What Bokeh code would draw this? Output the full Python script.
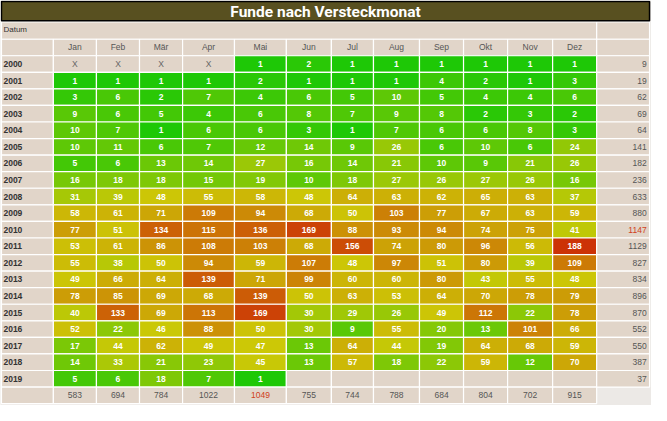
from bokeh.plotting import figure
from bokeh.models import Range1d, ColumnDataSource
from bokeh.embed import file_html
from bokeh.resources import INLINE
from bokeh.core.properties import value

# ---------------- data ----------------
months = ["Jan", "Feb", "Mär", "Apr", "Mai", "Jun", "Jul", "Aug", "Sep", "Okt", "Nov", "Dez"]
years = [str(y) for y in range(2000, 2020)]

# "X" = not yet possible, None = no data
y2000 = ["X", "X", "X", "X", 1, 2, 1, 1, 1, 1, 1, 1]
y2001 = [1, 1, 1, 1, 2, 1, 1, 1, 4, 2, 1, 3]
y2002 = [3, 6, 2, 7, 4, 6, 5, 10, 5, 4, 4, 6]
y2003 = [9, 6, 5, 4, 6, 8, 7, 9, 8, 2, 3, 2]
y2004 = [10, 7, 1, 6, 6, 3, 1, 7, 6, 6, 8, 3]
y2005 = [10, 11, 6, 7, 12, 14, 9, 26, 6, 10, 6, 24]
y2006 = [5, 6, 13, 14, 27, 16, 14, 21, 10, 9, 21, 26]
y2007 = [16, 18, 18, 15, 19, 10, 18, 27, 26, 27, 26, 16]
y2008 = [31, 39, 48, 55, 58, 48, 64, 63, 62, 65, 63, 37]
y2009 = [58, 61, 71, 109, 94, 68, 50, 103, 77, 67, 63, 59]
y2010 = [77, 51, 134, 115, 136, 169, 88, 93, 94, 74, 75, 41]
y2011 = [53, 61, 86, 108, 103, 68, 156, 74, 80, 96, 56, 188]
y2012 = [55, 38, 50, 94, 59, 107, 48, 97, 51, 80, 39, 109]
y2013 = [49, 66, 64, 139, 71, 99, 60, 60, 80, 43, 55, 48]
y2014 = [78, 85, 69, 68, 139, 50, 63, 53, 64, 70, 78, 79]
y2015 = [40, 133, 69, 113, 169, 30, 29, 26, 49, 112, 22, 78]
y2016 = [52, 22, 46, 88, 50, 30, 9, 55, 20, 13, 101, 66]
y2017 = [17, 44, 62, 49, 47, 13, 64, 44, 19, 64, 68, 59]
y2018 = [14, 33, 21, 23, 45, 13, 57, 18, 22, 59, 12, 70]
y2019 = [5, 6, 18, 7, 1, None, None, None, None, None, None, None]
values = [y2000, y2001, y2002, y2003, y2004, y2005, y2006, y2007, y2008, y2009,
          y2010, y2011, y2012, y2013, y2014, y2015, y2016, y2017, y2018, y2019]

row_totals = [9, 19, 62, 69, 64, 141, 182, 236, 633, 880, 1147, 1129, 827, 834,
              896, 870, 552, 550, 387, 37]
col_totals = [583, 694, 784, 1022, 1049, 755, 744, 788, 684, 804, 702, 915]
title = "Funde nach Versteckmonat"
corner_label = "Datum"

# ---------------- layout / style ----------------
COL_EDGES = [55, 99, 143, 187, 240, 293, 339, 382, 429, 474, 519, 565, 610]
LEFT, RIGHT = 2, 664
TITLE_Y = (2, 22)
DATUM_Y = (23, 41)
HEAD_Y = (41, 58)
ROW_TOP, ROW_H = 58, 17.1
BEIGE = "#e1d5c9"
PAGE = "#ece9e6"
FONT = "Liberation Sans"

nums = [v for row in values for v in row if isinstance(v, (int, float))]
vmax = max(nums)


def heat(v):
    t = (v / vmax) ** 0.5
    r = 204 * min(1.0, 2 * t)
    g = 200 - 150 * max(0.0, 2 * t - 1)
    return "#%02x%02x%02x" % (int(round(r)), int(round(g)), 6)


p = figure(width=651, height=405, x_range=Range1d(1, 666), y_range=Range1d(419, 1),
           output_backend="svg", toolbar_location=None, x_axis_type=None, y_axis_type=None,
           min_border=0, background_fill_color=PAGE, border_fill_color=PAGE)
p.grid.visible = False
p.outline_line_color = None

# cells
L, R, T, B, F = [], [], [], [], []


def cell(l, r, t, b, f):
    L.append(l); R.append(r); T.append(t); B.append(b); F.append(f)


cell(LEFT, COL_EDGES[-1], DATUM_Y[0], DATUM_Y[1], BEIGE)
cell(COL_EDGES[-1], RIGHT, DATUM_Y[0], DATUM_Y[1], BEIGE)
cell(LEFT, COL_EDGES[0], HEAD_Y[0], HEAD_Y[1], BEIGE)
for j in range(12):
    cell(COL_EDGES[j], COL_EDGES[j + 1], HEAD_Y[0], HEAD_Y[1], BEIGE)
cell(COL_EDGES[-1], RIGHT, HEAD_Y[0], HEAD_Y[1], BEIGE)

row_mid = []
for i, row in enumerate(values):
    t = ROW_TOP + i * ROW_H
    b = t + ROW_H
    row_mid.append((t + b) / 2)
    cell(LEFT, COL_EDGES[0], t, b, BEIGE)
    for j, v in enumerate(row):
        f = heat(v) if isinstance(v, (int, float)) else BEIGE
        cell(COL_EDGES[j], COL_EDGES[j + 1], t, b, f)
    cell(COL_EDGES[-1], RIGHT, t, b, BEIGE)

tot_t = ROW_TOP + len(values) * ROW_H
tot_b = tot_t + 17
cell(LEFT, COL_EDGES[0], tot_t, tot_b, BEIGE)
for j in range(12):
    cell(COL_EDGES[j], COL_EDGES[j + 1], tot_t, tot_b, BEIGE)

p.quad(left="l", right="r", top="t", bottom="b", fill_color="f", line_color="white",
       line_width=1.2, source=ColumnDataSource(dict(l=L, r=R, t=T, b=B, f=F)))

# title bar
p.quad(left=[LEFT], right=[RIGHT], top=[TITLE_Y[0]], bottom=[TITLE_Y[1]],
       fill_color="#585020", line_color="black", line_width=1.5)
p.text(x=[(LEFT + RIGHT) / 2], y=[(TITLE_Y[0] + TITLE_Y[1]) / 2 + 0.5], text=[title],
       text_color="white", text_font=value("Roboto"), text_font_style="bold",
       text_font_size="15.5px", text_align="center", text_baseline="middle")

p.text(x=[4], y=[(DATUM_Y[0] + DATUM_Y[1]) / 2 - 1], text=[corner_label], text_color="#333333",
       text_font=value(FONT), text_font_size="8px", text_baseline="middle")

col_mid = [(COL_EDGES[j] + COL_EDGES[j + 1]) / 2 for j in range(12)]
p.text(x=col_mid, y=[(HEAD_Y[0] + HEAD_Y[1]) / 2] * 12, text=months, text_color="#555555",
       text_font=value(FONT), text_font_size="8.5px", text_align="center", text_baseline="middle")

p.text(x=[4] * len(years), y=row_mid, text=years, text_color="#333333", text_font=value(FONT),
       text_font_style="bold", text_font_size="8.5px", text_baseline="middle")

vx, vy, vt, xx, xy = [], [], [], [], []
for i, row in enumerate(values):
    for j, v in enumerate(row):
        if isinstance(v, (int, float)):
            vx.append(col_mid[j]); vy.append(row_mid[i]); vt.append(str(v))
        elif v == "X":
            xx.append(col_mid[j]); xy.append(row_mid[i])
p.text(x=vx, y=vy, text=vt, text_color="white", text_font=value(FONT), text_font_style="bold",
       text_font_size="8.5px", text_align="center", text_baseline="middle")
p.text(x=xx, y=xy, text=["X"] * len(xx), text_color="#666666", text_font=value(FONT),
       text_font_size="8.5px", text_align="center", text_baseline="middle")

rmax = max(row_totals)
p.text(x=[RIGHT - 3] * len(row_totals), y=row_mid, text=[str(v) for v in row_totals],
       text_color=["#d04020" if v == rmax else "#555555" for v in row_totals],
       text_font=value(FONT), text_font_size="8.5px", text_align="right", text_baseline="middle")

cmax = max(col_totals)
p.text(x=col_mid, y=[(tot_t + tot_b) / 2] * 12, text=[str(v) for v in col_totals],
       text_color=["#d04020" if v == cmax else "#555555" for v in col_totals],
       text_font=value(FONT), text_font_size="8.5px", text_align="center", text_baseline="middle")

open("out.html", "w").write(file_html(p, INLINE))
